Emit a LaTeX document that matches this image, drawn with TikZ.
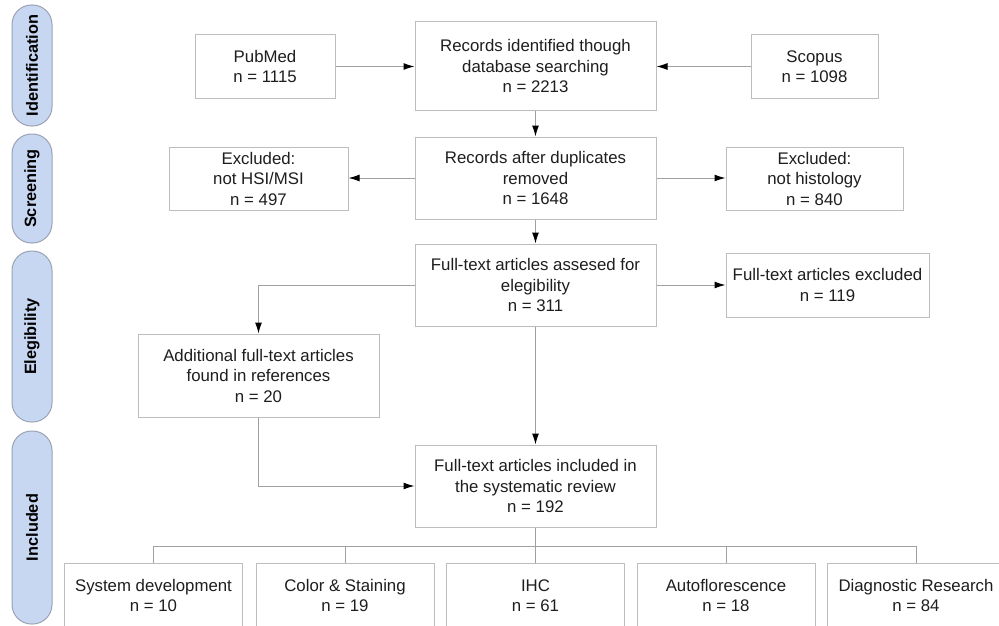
\documentclass[tikz,border=0pt]{standalone}
\usepackage{fontspec}
\setmainfont{Liberation Sans}
\usetikzlibrary{arrows.meta}
\definecolor{boxline}{HTML}{BDBDBD}
\definecolor{connline}{HTML}{A0A0A0}
\definecolor{pillfill}{HTML}{C8D7F1}
\definecolor{pillline}{HTML}{9AA3B5}
\definecolor{txt}{HTML}{1E1E1E}
\begin{document}
\begin{tikzpicture}[x=1pt,y=-1pt,
 box/.style={draw=boxline, line width=1pt, fill=white, align=center, inner sep=0pt,
   font=\fontsize{16.8}{20.5}\selectfont, text=txt},
 pill/.style={draw=pillline, fill=pillfill, line width=1pt, rounded corners=19.5pt,
   inner sep=0pt, minimum height=40pt, rotate=90, font=\fontsize{16.3}{19}\selectfont\bfseries, text=black},
 conn/.style={draw=connline, line width=1pt},
 arr/.style={conn, -{Latex[length=11pt,width=7pt,color=black]}},
]
\useasboundingbox (0,0) rectangle (999,626);
\clip (0,0) rectangle (999,626);
\fill[white] (0,0) rectangle (999,626);

% phase pills
\node[pill, minimum width=121pt] (pI) at (32,65.5) {Identification};
\node[pill, minimum width=109pt] (pS) at (32,188.5) {Screening};
\node[pill, minimum width=171pt] (pE) at (32,336.5) {Elegibility};
\node[pill, minimum width=193pt] (pN) at (32,527.5) {Included};

% boxes
\node[box, minimum width=140pt, minimum height=63pt] (pubmed) at (265,66.5) {PubMed\\n = 1115};
\node[box, minimum width=241pt, minimum height=88pt] (rid) at (535.5,66) {Records identified though\\database searching\\n = 2213};
\node[box, minimum width=127pt, minimum height=63pt] (scopus) at (814.5,66.5) {Scopus\\n = 1098};

\node[box, minimum width=241pt, minimum height=82pt] (rad) at (535.5,178) {Records after duplicates\\removed\\n = 1648};
\node[box, minimum width=179pt, minimum height=63pt] (exhsi) at (258.5,178.5) {Excluded:\\not HSI/MSI\\n = 497};
\node[box, minimum width=177pt, minimum height=63pt] (exhist) at (814.5,178.5) {Excluded:\\not histology\\n = 840};

\node[box, minimum width=241pt, minimum height=82pt] (fta) at (535.5,285) {Full-text articles assesed for\\elegibility\\n = 311};
\node[box, minimum width=203pt, minimum height=64pt] (ftx) at (827.5,285) {Full-text articles excluded\\n = 119};
\node[box, minimum width=241pt, minimum height=83pt] (add) at (258.5,375.5) {Additional full-text articles\\found in references\\n = 20};

\node[box, minimum width=241pt, minimum height=82pt] (inc) at (535.5,486) {Full-text articles included in\\the systematic review\\n = 192};

\node[box, minimum width=178pt, minimum height=65pt] (b1) at (153.5,595.5) {System development\\n = 10};
\node[box, minimum width=178pt, minimum height=65pt] (b2) at (345,595.5) {Color \& Staining\\n = 19};
\node[box, minimum width=178pt, minimum height=65pt] (b3) at (535.5,595.5) {IHC\\n = 61};
\node[box, minimum width=178pt, minimum height=65pt] (b4) at (726,595.5) {Autoflorescence\\n = 18};
\node[box, minimum width=178pt, minimum height=65pt] (b5) at (916,595.5) {Diagnostic Research\\n = 84};

% connectors
\draw[arr] (pubmed.east) -- (pubmed.east -| rid.west);
\draw[arr] (scopus.west) -- (scopus.west -| rid.east);
\draw[arr] (rid.south) -- (rad.north);
\draw[arr] (rad.west) -- (rad.west -| exhsi.east);
\draw[arr] (rad.east) -- (rad.east -| exhist.west);
\draw[arr] (rad.south) -- (fta.north);
\draw[arr] (fta.east) -- (fta.east -| ftx.west);
\draw[arr] (fta.west) -| (add.north);
\draw[arr] (fta.south) -- (inc.north);
\draw[arr] (add.south) |- (inc.west);

% tree
\coordinate (tj) at (535.5,546);
\draw[conn] (inc.south) -- (b3.north);
\draw[conn] (b1.north) -- (b1.north |- tj) -- (b5.north |- tj) -- (b5.north);
\draw[conn] (b2.north) -- (b2.north |- tj);
\draw[conn] (b4.north) -- (b4.north |- tj);
\end{tikzpicture}
\end{document}
